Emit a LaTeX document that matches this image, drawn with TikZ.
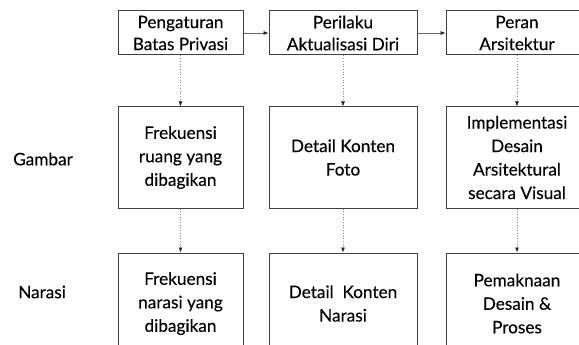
\documentclass[tikz,border=0pt]{standalone}
\usepackage{fontspec}
\setmainfont{Lato}[FakeBold=0.2]
\usetikzlibrary{arrows.meta}
\begin{document}
\begin{tikzpicture}[x=1pt,y=-1pt,
  box/.style={draw=black!75,line width=1pt,inner sep=0pt,align=center,
    font=\fontsize{17.2}{23.5}\selectfont,text=black},
  lab/.style={anchor=west,inner sep=0pt,font=\fontsize{17.2}{23.5}\selectfont,text=black},
  harrow/.style={draw=black!60,line width=0.6pt,-{Latex[length=5pt,width=4pt,black!85]}},
  varrow/.style={draw=black!45,line width=0.7pt,dotted,-{Latex[length=5pt,width=4pt,black!85]}}]
\useasboundingbox (0,0) rectangle (579,345);
\begin{scope}
\clip (0,0) rectangle (579,345);
% row 1
\node[box,minimum width=125pt,minimum height=44pt] (a1) at (180.5,33) {Pengaturan\\[-1.5pt]Batas Privasi};
\node[box,minimum width=148pt,minimum height=44pt] (b1) at (343,33) {Perilaku\\[-1.5pt]Aktualisasi Diri};
\node[box,minimum width=142pt,minimum height=44pt] (c1) at (517,33) {Peran\\[-1.5pt]Arsitektur};
% row 2
\node[box,minimum width=125pt,minimum height=101pt] (a2) at (180.5,157.5) {Frekuensi\\ruang yang\\dibagikan};
\node[box,minimum width=148pt,minimum height=101pt] (b2) at (343,157.5) {Detail Konten\\Foto};
\node[box,minimum width=142pt,minimum height=101pt] (c2) at (517,157.5) {Implementasi\\Desain\\Arsitektural\\secara Visual};
% row 3
\node[box,minimum width=125pt,minimum height=101pt] (a3) at (180.5,303.5) {Frekuensi\\narasi yang\\dibagikan};
\node[box,minimum width=148pt,minimum height=101pt] (b3) at (343,303.5) {Detail\ \ Konten\\Narasi};
\node[box,minimum width=142pt,minimum height=101pt] (c3) at (517,303.5) {Pemaknaan\\Desain \&\\Proses};
\end{scope}
% labels
\node[lab] (g) at (13,159) {Gambar};
\node[lab] (n) at (18,292) {Narasi};
% connectors
\draw[harrow] (a1) -- (b1);
\draw[harrow] (b1) -- (c1);
\draw[varrow] (a1) -- (a2);
\draw[varrow] (b1) -- (b2);
\draw[varrow] (c1) -- (c2);
\draw[varrow] (a2) -- (a3);
\draw[varrow] (b2) -- (b3);
\draw[varrow] (c2) -- (c3);
\end{tikzpicture}
\end{document}
